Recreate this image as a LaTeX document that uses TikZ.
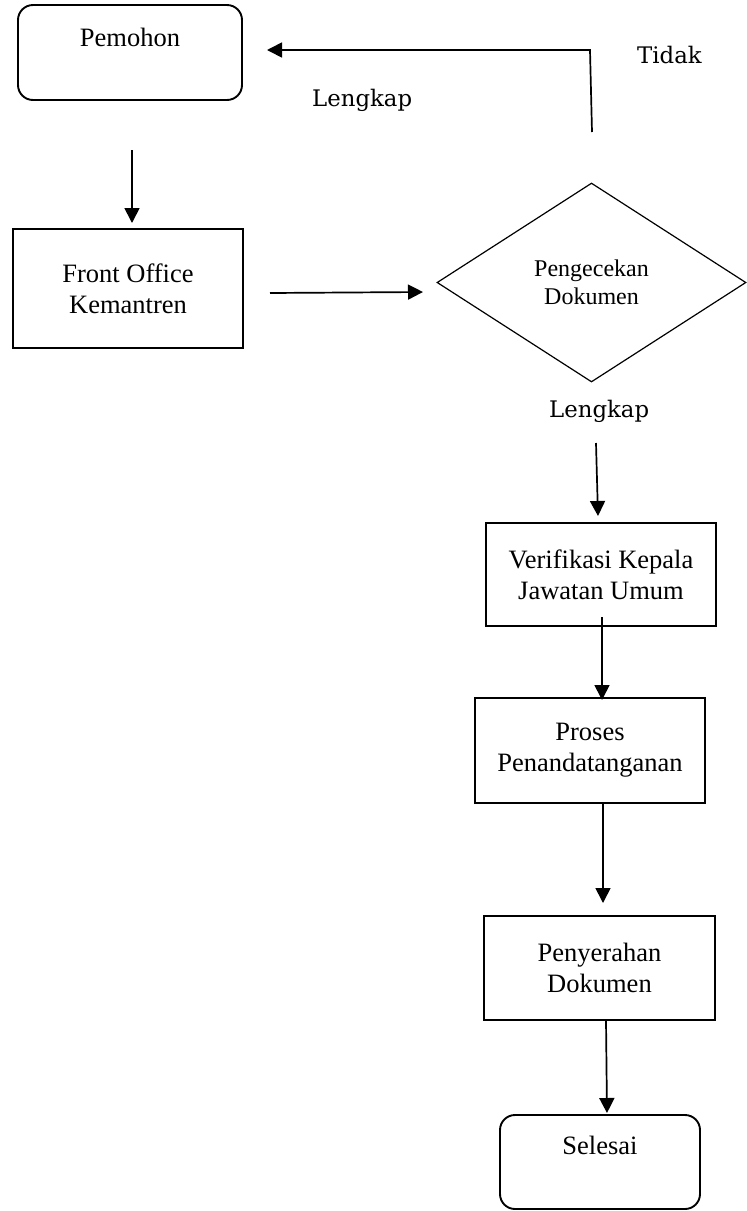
\documentclass[tikz,border=0pt]{standalone}
\usepackage{fontspec}
\setmainfont{Liberation Serif}
\newfontfamily\labfont{DejaVu Serif}
\usetikzlibrary{shapes.geometric,arrows.meta}
\begin{document}
\begin{tikzpicture}[x=1pt,y=-1pt,
  boxtext/.style={font=\fontsize{26.5}{31}\selectfont, align=center},
  procbox/.style={draw, line width=2.5pt, inner sep=0pt, boxtext},
  termbox/.style={draw, line width=1.9pt, rounded corners=15pt, inner sep=0pt},
  decbox/.style={draw, line width=1.2pt, diamond, inner sep=0pt, align=center,
     font=\fontsize{24}{28}\selectfont},
  lbl/.style={font=\labfont\fontsize{22.8}{27}\selectfont, inner sep=0pt, anchor=base west},
  flow/.style={line width=1.7pt, -{Triangle[length=15pt,width=15pt]}}
]
\useasboundingbox (0,0) rectangle (747,1211);

% nodes
\node[termbox, minimum width=224pt, minimum height=95pt] (pem) at (130,52.5) {};
\node[boxtext, inner sep=0pt, anchor=base] (pemt) at (130,46) {Pemohon};
\node[procbox, minimum width=230pt, minimum height=119pt] (fo) at (128,288.5) {Front Office\\Kemantren};
\node[decbox, minimum width=309pt, minimum height=199pt] (dia) at (591.5,282.5) {Pengecekan\\Dokumen};
\node[procbox, minimum width=230pt, minimum height=103pt] (ver) at (601,574.5) {Verifikasi Kepala\\Jawatan Umum};
\node[procbox, minimum width=230pt, minimum height=105pt] (pro) at (590,750.5) {Proses\\Penandatanganan};
\node[procbox, minimum width=231pt, minimum height=104pt] (pen) at (599.5,968) {Penyerahan\\Dokumen};
\node[termbox, minimum width=200pt, minimum height=94pt] (sel) at (600,1162) {};
\node[boxtext, inner sep=0pt, anchor=base] (selt) at (600,1154) {Selesai};

% labels
\node[lbl] (tidak) at (637,63) {Tidak};
\node[lbl] (lengkap1) at (312,106) {Lengkap};
\node[lbl] (lengkap2) at (549,417) {Lengkap};

% connector end points
\coordinate (a1s) at (132,150);
\coordinate (a1e) at (132,223);
\coordinate (a2s) at (270,293);
\coordinate (a2e) at (423,292);
\coordinate (r1) at (592,132);
\coordinate (r2) at (590,50);
\coordinate (r3) at (267,50);
\coordinate (a4s) at (596,443);
\coordinate (a4e) at (598,516);
\coordinate (a5s) at (602,617);
\coordinate (a5e) at (602,700);
\coordinate (a6s) at (603,803);
\coordinate (a6e) at (603,903);
\coordinate (a7s) at (606,1020);
\coordinate (a7e) at (607,1113);

% connectors
\draw[flow] (a1s) -- (a1e);
\draw[flow] (a2s) -- (a2e);
\draw[flow] (r1) -- (r2) -- (r3);
\draw[flow] (a4s) -- (a4e);
\draw[flow] (a5s) -- (a5e);
\draw[flow] (a6s) -- (a6e);
\draw[flow] (a7s) -- (a7e);
\end{tikzpicture}
\end{document}
